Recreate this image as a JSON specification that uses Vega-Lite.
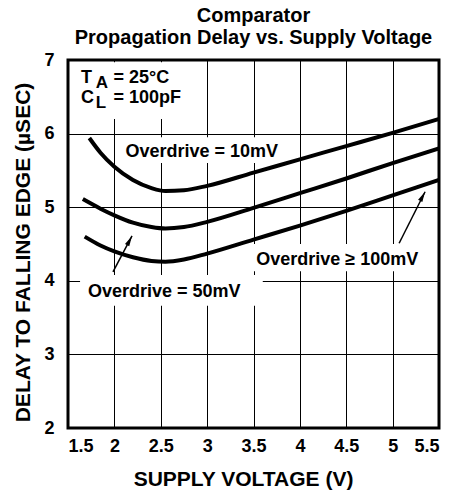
{
  "$schema": "https://vega.github.io/schema/vega-lite/v6.json",
  "autosize": "none",
  "padding": {"left": 68, "top": 60, "right": 13, "bottom": 64},
  "width": 371,
  "height": 368,
  "title": {
    "text": ["Comparator", "Propagation Delay vs. Supply Voltage"],
    "font": "Liberation Sans",
    "fontSize": 20,
    "fontWeight": "bold",
    "lineHeight": 22,
    "anchor": "middle",
    "frame": "group",
    "offset": 9,
    "dy": 6,
    "color": "black"
  },
  "config": {
    "view": {"stroke": "black", "strokeWidth": 3},
    "font": "Liberation Sans",
    "axis": {
      "labelFont": "Liberation Sans",
      "labelFontWeight": "bold",
      "labelFontSize": 18,
      "labelColor": "black",
      "titleFont": "Liberation Sans",
      "titleFontWeight": "bold",
      "titleFontSize": 21,
      "titleColor": "black",
      "tickSize": 0,
      "domain": false,
      "grid": true,
      "gridColor": "black",
      "gridOpacity": 1,
      "gridWidth": 1
    }
  },
  "datasets": {
    "curves": [
      {"v": 1.73, "d": 5.94, "od": "10mV"}, {"v": 1.85, "d": 5.74, "od": "10mV"}, {"v": 2.0, "d": 5.55, "od": "10mV"}, {"v": 2.2, "d": 5.37, "od": "10mV"}, {"v": 2.4, "d": 5.26, "od": "10mV"}, {"v": 2.55, "d": 5.22, "od": "10mV"}, {"v": 2.75, "d": 5.23, "od": "10mV"}, {"v": 3.0, "d": 5.29, "od": "10mV"}, {"v": 3.5, "d": 5.47, "od": "10mV"}, {"v": 4.0, "d": 5.65, "od": "10mV"}, {"v": 4.5, "d": 5.83, "od": "10mV"}, {"v": 5.0, "d": 6.01, "od": "10mV"}, {"v": 5.5, "d": 6.2, "od": "10mV"},
      {"v": 1.66, "d": 5.11, "od": "50mV"}, {"v": 1.85, "d": 4.98, "od": "50mV"}, {"v": 2.0, "d": 4.89, "od": "50mV"}, {"v": 2.2, "d": 4.79, "od": "50mV"}, {"v": 2.4, "d": 4.73, "od": "50mV"}, {"v": 2.55, "d": 4.71, "od": "50mV"}, {"v": 2.75, "d": 4.73, "od": "50mV"}, {"v": 3.0, "d": 4.8, "od": "50mV"}, {"v": 3.5, "d": 4.99, "od": "50mV"}, {"v": 4.0, "d": 5.19, "od": "50mV"}, {"v": 4.5, "d": 5.39, "od": "50mV"}, {"v": 5.0, "d": 5.6, "od": "50mV"}, {"v": 5.5, "d": 5.8, "od": "50mV"},
      {"v": 1.68, "d": 4.6, "od": "100mV"}, {"v": 1.85, "d": 4.48, "od": "100mV"}, {"v": 2.0, "d": 4.4, "od": "100mV"}, {"v": 2.2, "d": 4.32, "od": "100mV"}, {"v": 2.4, "d": 4.27, "od": "100mV"}, {"v": 2.55, "d": 4.26, "od": "100mV"}, {"v": 2.75, "d": 4.29, "od": "100mV"}, {"v": 3.0, "d": 4.37, "od": "100mV"}, {"v": 3.5, "d": 4.56, "od": "100mV"}, {"v": 4.0, "d": 4.75, "od": "100mV"}, {"v": 4.5, "d": 4.95, "od": "100mV"}, {"v": 5.0, "d": 5.16, "od": "100mV"}, {"v": 5.5, "d": 5.37, "od": "100mV"}
    ],
    "boxes": [
      {"x": 1.53, "x2": 2.58, "y": 6.2, "y2": 6.97},
      {"x": 2.1, "x2": 3.76, "y": 5.6, "y2": 5.95},
      {"x": 3.5, "x2": 5.47, "y": 4.13, "y2": 4.5},
      {"x": 1.63, "x2": 3.6, "y": 3.66, "y2": 4.08}
    ],
    "arrows": [
      {"x": 1.985, "y": 4.12, "x2": 2.19, "y2": 4.61},
      {"x": 5.07, "y": 4.51, "x2": 5.35, "y2": 5.21}
    ],
    "labels": [
      {"t": "T", "x": 1.64, "y": 6.69},
      {"t": "= 25°C", "x": 1.99, "y": 6.69},
      {"t": "C", "x": 1.64, "y": 6.42},
      {"t": "= 100pF", "x": 1.99, "y": 6.42},
      {"t": "Overdrive = 10mV", "x": 2.12, "y": 5.68},
      {"t": "Overdrive ≥ 100mV", "x": 3.53, "y": 4.21},
      {"t": "Overdrive = 50mV", "x": 1.715, "y": 3.78}
    ],
    "subs": [
      {"t": "A", "x": 1.8, "y": 6.69},
      {"t": "L", "x": 1.8, "y": 6.42}
    ]
  },
  "layer": [
    {
      "data": {"name": "boxes"},
      "mark": {"type": "rect", "fill": "white", "stroke": null},
      "encoding": {
        "x": {"field": "x", "type": "quantitative", "scale": {"domain": [1.5, 5.5], "nice": false, "zero": false},
          "axis": {"values": [1.5, 2, 2.5, 3, 3.5, 4, 4.5, 5, 5.5], "format": "~g", "labelPadding": 9, "title": "SUPPLY VOLTAGE (V)", "titlePadding": 13, "titleX": 175}},
        "x2": {"field": "x2"},
        "y": {"field": "y", "type": "quantitative", "scale": {"domain": [2, 7], "nice": false, "zero": false},
          "axis": {"values": [2, 3, 4, 5, 6, 7], "format": "d", "labelPadding": 14, "title": "DELAY TO FALLING EDGE (µSEC)", "titlePadding": 10, "titleY": 192}},
        "y2": {"field": "y2"}
      }
    },
    {
      "data": {"name": "curves"},
      "mark": {"type": "line", "stroke": "black", "strokeWidth": 4, "interpolate": "monotone", "clip": true},
      "encoding": {
        "x": {"field": "v", "type": "quantitative"},
        "y": {"field": "d", "type": "quantitative"},
        "detail": {"field": "od"}
      }
    },
    {
      "data": {"name": "arrows"},
      "mark": {"type": "rule", "stroke": "black", "strokeWidth": 1.5},
      "encoding": {
        "x": {"field": "x", "type": "quantitative"},
        "y": {"field": "y", "type": "quantitative"},
        "x2": {"field": "x2"},
        "y2": {"field": "y2"}
      }
    },
    {
      "data": {"name": "arrows"},
      "mark": {"type": "point", "shape": "M0,0L-0.6,2.6L0.6,2.6Z", "size": 64, "filled": true, "fill": "black", "stroke": null, "opacity": 1, "angle": 28},
      "encoding": {
        "x": {"field": "x2", "type": "quantitative"},
        "y": {"field": "y2", "type": "quantitative"}
      }
    },
    {
      "data": {"name": "labels"},
      "mark": {"type": "text", "align": "left", "baseline": "alphabetic", "font": "Liberation Sans", "fontWeight": "bold", "fontSize": 18, "color": "black"},
      "encoding": {
        "x": {"field": "x", "type": "quantitative"},
        "y": {"field": "y", "type": "quantitative"},
        "text": {"field": "t"}
      }
    },
    {
      "data": {"name": "subs"},
      "mark": {"type": "text", "align": "left", "baseline": "alphabetic", "font": "Liberation Sans", "fontWeight": "bold", "fontSize": 17, "dy": 5, "color": "black"},
      "encoding": {
        "x": {"field": "x", "type": "quantitative"},
        "y": {"field": "y", "type": "quantitative"},
        "text": {"field": "t"}
      }
    }
  ]
}
